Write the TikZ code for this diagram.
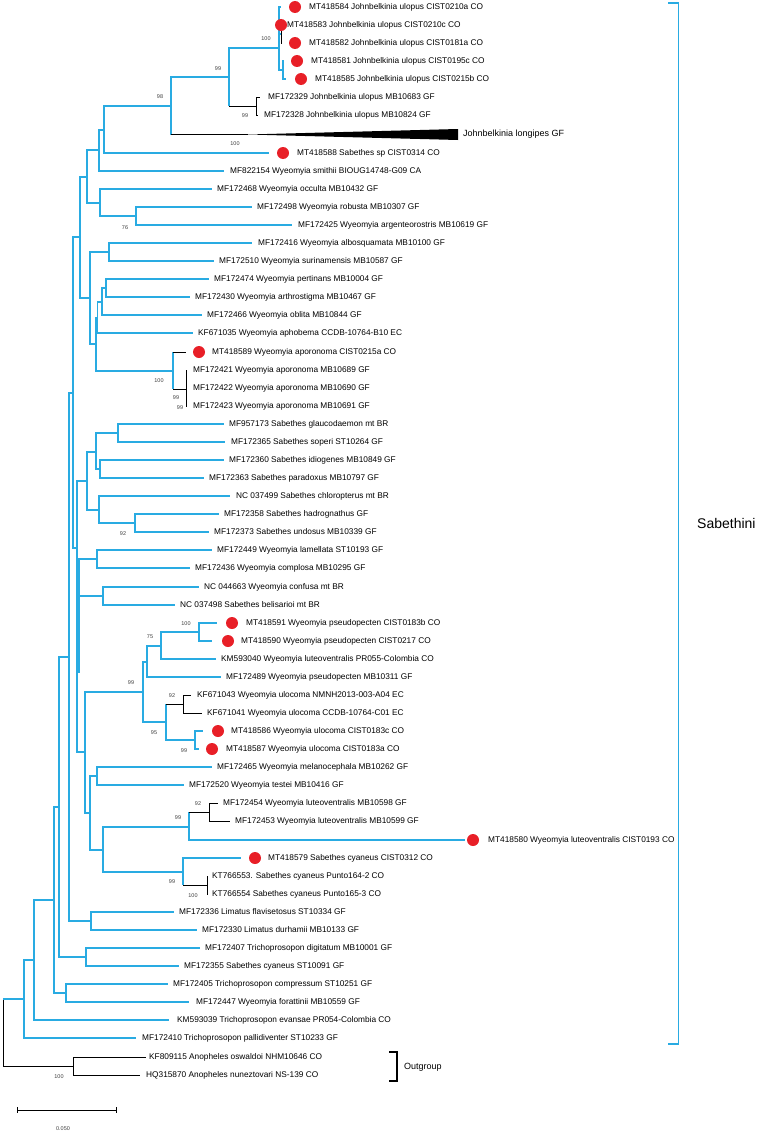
\documentclass[tikz,border=0pt]{standalone}
\usepackage{fontspec}
\setmainfont{Liberation Sans}
\definecolor{treeblue}{RGB}{41,171,226}
\definecolor{dotred}{RGB}{232,31,39}
\begin{document}
\begin{tikzpicture}[x=1pt,y=-1pt,
        blu/.style={treeblue, line width=1.8pt},
        blk/.style={black, line width=0.8pt},
        lab/.style={anchor=west, inner sep=0pt, font=\fontsize{8.3}{10}\selectfont},
        dot/.style={circle, fill=dotred, inner sep=0pt, minimum size=12pt},
        bs/.style={inner sep=0pt, text=black!75, font=\fontsize{5.5}{6}\selectfont}]
        \useasboundingbox (0,0) rectangle (756,1132);
        \coordinate (nJu) at (279,48);
        \coordinate (nJub) at (281,34);
        \coordinate (nJs) at (283,70);
        \coordinate (n99a) at (229,77);
        \coordinate (nJg) at (256,106);
        \coordinate (n98) at (171,106);
        \coordinate (nLong) at (248,134.5);
        \coordinate (nLongA) at (458,129);
        \coordinate (nLongB) at (458,140);
        \coordinate (nA) at (104,130);
        \coordinate (nB) at (99,150);
        \coordinate (nC) at (87,177);
        \coordinate (nD) at (100,203);
        \coordinate (n76) at (136,216);
        \coordinate (nE) at (80,237);
        \coordinate (nF) at (109,252);
        \coordinate (nG) at (90,298);
        \coordinate (nH) at (106,288);
        \coordinate (nI) at (102,302);
        \coordinate (nJ) at (97.5,318);
        \coordinate (nK) at (96,344);
        \coordinate (n100ap) at (173,371);
        \coordinate (n99ap) at (186,389);
        \coordinate (nL) at (73,393);
        \coordinate (nM) at (77,548);
        \coordinate (nS) at (87,481);
        \coordinate (nS1) at (96,452);
        \coordinate (nS2) at (99,510);
        \coordinate (nGla) at (118,433);
        \coordinate (nIdi) at (100,469);
        \coordinate (n92s) at (135,523);
        \coordinate (nLam) at (97,559);
        \coordinate (nConf) at (103,596);
        \coordinate (nZa) at (78.5,560);
        \coordinate (nZb) at (78.5,673);
        \coordinate (nP) at (85,752);
        \coordinate (n99p) at (143,692);
        \coordinate (nPs) at (147,662);
        \coordinate (n75) at (161,646);
        \coordinate (n100p) at (199,632);
        \coordinate (n95) at (166,722);
        \coordinate (n92u) at (183,704);
        \coordinate (n99u) at (195,740);
        \coordinate (nQ) at (90,813);
        \coordinate (nMel) at (97,776);
        \coordinate (nR) at (103,850);
        \coordinate (n99lu) at (189,827);
        \coordinate (n92l) at (209,812);
        \coordinate (n99cy) at (183,872);
        \coordinate (n100cy) at (207,885);
        \coordinate (nN) at (69,657);
        \coordinate (nLim) at (91,921);
        \coordinate (nT) at (59,807);
        \coordinate (nTd) at (86,957);
        \coordinate (nU) at (54,900);
        \coordinate (nTc) at (66,993);
        \coordinate (nV) at (34,960);
        \coordinate (nW) at (24,999);
        \coordinate (nRoot) at (3,1033);
        \coordinate (nOut) at (73,1066);
        \coordinate (l1) at (281,7);
        \coordinate (l2) at (282,25);
        \coordinate (l3) at (282,43);
        \coordinate (l4) at (284,61);
        \coordinate (l5) at (286,79);
        \coordinate (l6) at (260,97);
        \coordinate (l7) at (258,115);
        \coordinate (l9) at (269,153);
        \coordinate (l10) at (224,171);
        \coordinate (l11) at (212,189);
        \coordinate (l12) at (252,207);
        \coordinate (l13) at (292,225);
        \coordinate (l14) at (252,243);
        \coordinate (l15) at (214,261);
        \coordinate (l16) at (209,279);
        \coordinate (l17) at (190,297);
        \coordinate (l18) at (202,315);
        \coordinate (l19) at (193,333);
        \coordinate (l20) at (186,352);
        \coordinate (l21) at (187,370);
        \coordinate (l22) at (187,388);
        \coordinate (l23) at (187,406);
        \coordinate (l24) at (224,424);
        \coordinate (l25) at (225,442);
        \coordinate (l26) at (224,460);
        \coordinate (l27) at (204,478);
        \coordinate (l28) at (230,496);
        \coordinate (l29) at (219,514);
        \coordinate (l30) at (209,532);
        \coordinate (l31) at (212,550);
        \coordinate (l32) at (190,568);
        \coordinate (l33) at (199,587);
        \coordinate (l34) at (175,605);
        \coordinate (l35) at (217,623);
        \coordinate (l36) at (212,641);
        \coordinate (l37) at (216,659);
        \coordinate (l38) at (221,677);
        \coordinate (l39) at (191,695);
        \coordinate (l40) at (202,713);
        \coordinate (l41) at (203,731);
        \coordinate (l42) at (199,749);
        \coordinate (l43) at (212,767);
        \coordinate (l44) at (184,785);
        \coordinate (l45) at (218,803);
        \coordinate (l46) at (230,821);
        \coordinate (l47) at (465,840);
        \coordinate (l48) at (241,858);
        \coordinate (l49) at (208,876);
        \coordinate (l50) at (208,894);
        \coordinate (l51) at (174,912);
        \coordinate (l52) at (197,930);
        \coordinate (l53) at (200,948);
        \coordinate (l54) at (179,966);
        \coordinate (l55) at (168,984);
        \coordinate (l56) at (189,1002);
        \coordinate (l57) at (169,1020);
        \coordinate (l58) at (136,1038);
        \coordinate (l59) at (146,1057);
        \coordinate (l60) at (140,1075);
        \draw[blu] (nJu) |- (l1);
        \draw[blu] (nJu) |- (nJub);
        \draw[blk] (nJub) |- (l2);
        \draw[blk] (nJub) |- (l3);
        \draw[blu] (nJu) |- (nJs);
        \draw[blu] (nJs) |- (l4);
        \draw[blu] (nJs) |- (l5);
        \draw[blu] (n99a) |- (nJu);
        \draw[blu] (n99a) -- (n99a |- nJg);
        \draw[blk] (n99a |- nJg) -- (nJg);
        \draw[blk] (nJg) |- (l6);
        \draw[blk] (nJg) |- (l7);
        \draw[blu] (n98) |- (n99a);
        \draw[blu] (n98) -- (n98 |- nLong);
        \draw[blk] (n98 |- nLong) -- (nLong);
        \fill (nLong) -- (nLongA) -- (nLongB) -- cycle;
        \draw[blu] (nA) |- (n98);
        \draw[blu] (nA) |- (l9);
        \draw[blu] (nB) |- (nA);
        \draw[blu] (nB) |- (l10);
        \draw[blu] (nC) |- (nB);
        \draw[blu] (nC) |- (nD);
        \draw[blu] (nD) |- (l11);
        \draw[blu] (nD) |- (n76);
        \draw[blu] (n76) |- (l12);
        \draw[blu] (n76) |- (l13);
        \draw[blu] (nE) |- (nC);
        \draw[blu] (nE) |- (nG);
        \draw[blu] (nG) |- (nF);
        \draw[blu] (nG) |- (nK);
        \draw[blu] (nF) |- (l14);
        \draw[blu] (nF) |- (l15);
        \draw[blu] (nK) |- (nJ);
        \draw[blu] (nK) |- (n100ap);
        \draw[blu] (nJ) |- (nI);
        \draw[blu] (nJ) |- (l19);
        \draw[blu] (nI) |- (nH);
        \draw[blu] (nI) |- (l18);
        \draw[blu] (nH) |- (l16);
        \draw[blu] (nH) |- (l17);
        \draw[blu] (n100ap) -- (n100ap |- l20);
        \draw[blk] (n100ap |- l20) -- (l20);
        \draw[blu] (n100ap) -- (n100ap |- n99ap);
        \draw[blk] (n100ap |- n99ap) -- (n99ap);
        \draw[blk] (n99ap) |- (l21);
        \draw[blk] (n99ap) |- (l22);
        \draw[blk] (n99ap) |- (l23);
        \draw[blu] (nL) |- (nE);
        \draw[blu] (nL) |- (nM);
        \draw[blu] (nM) |- (nS);
        \draw[blu] (nM) |- (nLam);
        \draw[blu] (nM) |- (nConf);
        \draw[blu] (nM) |- (nP);
        \draw[treeblue, line width=2.8pt] (nZa) -- (nZb);
        \draw[blu] (nS) |- (nS1);
        \draw[blu] (nS) |- (nS2);
        \draw[blu] (nS1) |- (nGla);
        \draw[blu] (nS1) |- (nIdi);
        \draw[blu] (nGla) |- (l24);
        \draw[blu] (nGla) |- (l25);
        \draw[blu] (nIdi) |- (l26);
        \draw[blu] (nIdi) |- (l27);
        \draw[blu] (nS2) |- (l28);
        \draw[blu] (nS2) |- (n92s);
        \draw[blu] (n92s) |- (l29);
        \draw[blu] (n92s) |- (l30);
        \draw[blu] (nLam) |- (l31);
        \draw[blu] (nLam) |- (l32);
        \draw[blu] (nConf) |- (l33);
        \draw[blu] (nConf) |- (l34);
        \draw[blu] (nP) |- (n99p);
        \draw[blu] (nP) |- (nQ);
        \draw[blu] (n99p) |- (nPs);
        \draw[blu] (n99p) |- (n95);
        \draw[blu] (nPs) |- (n75);
        \draw[blu] (nPs) |- (l38);
        \draw[blu] (n75) |- (n100p);
        \draw[blu] (n75) |- (l37);
        \draw[blu] (n100p) |- (l35);
        \draw[blu] (n100p) |- (l36);
        \draw[blu] (n95) -- (n95 |- n92u);
        \draw[blk] (n95 |- n92u) -- (n92u);
        \draw[blu] (n95) |- (n99u);
        \draw[blk] (n92u) |- (l39);
        \draw[blk] (n92u) |- (l40);
        \draw[blu] (n99u) |- (l41);
        \draw[blu] (n99u) |- (l42);
        \draw[blu] (nQ) |- (nMel);
        \draw[blu] (nQ) |- (nR);
        \draw[blu] (nMel) |- (l43);
        \draw[blu] (nMel) |- (l44);
        \draw[blu] (nR) |- (n99lu);
        \draw[blu] (nR) |- (n99cy);
        \draw[blu] (n99lu) -- (n99lu |- n92l);
        \draw[blk] (n99lu |- n92l) -- (n92l);
        \draw[blu] (n99lu) |- (l47);
        \draw[blk] (n92l) |- (l45);
        \draw[blk] (n92l) |- (l46);
        \draw[blu] (n99cy) |- (l48);
        \draw[blu] (n99cy) -- (n99cy |- n100cy);
        \draw[blk] (n99cy |- n100cy) -- (n100cy);
        \draw[blk] (n100cy) |- (l49);
        \draw[blk] (n100cy) |- (l50);
        \draw[blu] (nN) |- (nL);
        \draw[blu] (nN) |- (nLim);
        \draw[blu] (nLim) |- (l51);
        \draw[blu] (nLim) |- (l52);
        \draw[blu] (nT) |- (nN);
        \draw[blu] (nT) |- (nTd);
        \draw[blu] (nTd) |- (l53);
        \draw[blu] (nTd) |- (l54);
        \draw[blu] (nU) |- (nT);
        \draw[blu] (nU) |- (nTc);
        \draw[blu] (nTc) |- (l55);
        \draw[blu] (nTc) |- (l56);
        \draw[blu] (nV) |- (nU);
        \draw[blu] (nV) |- (l57);
        \draw[blu] (nW) |- (nV);
        \draw[blu] (nW) |- (l58);
        \draw[blk] (nRoot) -- (nRoot |- nW);
        \draw[blu] (nRoot |- nW) -- (nW);
        \draw[blk] (nRoot) |- (nOut);
        \draw[blk] (nOut) |- (l59);
        \draw[blk] (nOut) |- (l60);
        \node[dot] (d1) at (295,7) {};
        \node[dot] (d2) at (281,25) {};
        \node[dot] (d3) at (295,43) {};
        \node[dot] (d4) at (297,61) {};
        \node[dot] (d5) at (301,79) {};
        \node[dot] (d9) at (283,153) {};
        \node[dot] (d20) at (199,352) {};
        \node[dot] (d35) at (232,623) {};
        \node[dot] (d36) at (228,641) {};
        \node[dot] (d41) at (218,731) {};
        \node[dot] (d42) at (212,749) {};
        \node[dot] (d47) at (473,840) {};
        \node[dot] (d48) at (255,858) {};
        \node[lab] (t1) at (309,7) {MT418584 Johnbelkinia ulopus CIST0210a CO};
        \node[lab] (t2) at (287,25) {MT418583 Johnbelkinia ulopus CIST0210c CO};
        \node[lab] (t3) at (309,43) {MT418582 Johnbelkinia ulopus CIST0181a CO};
        \node[lab] (t4) at (311,61) {MT418581 Johnbelkinia ulopus CIST0195c CO};
        \node[lab] (t5) at (315,79) {MT418585 Johnbelkinia ulopus CIST0215b CO};
        \node[lab] (t6) at (268,97) {MF172329 Johnbelkinia ulopus MB10683 GF};
        \node[lab] (t7) at (264,115) {MF172328 Johnbelkinia ulopus MB10824 GF};
        \node[lab, font=\fontsize{9}{11}\selectfont] (t8) at (463,134) {Johnbelkinia longipes GF};
        \node[lab] (t9) at (297,153) {MT418588 Sabethes sp CIST0314 CO};
        \node[lab] (t10) at (230,171) {MF822154 Wyeomyia smithii BIOUG14748-G09 CA};
        \node[lab] (t11) at (217,189) {MF172468 Wyeomyia occulta MB10432 GF};
        \node[lab] (t12) at (257,207) {MF172498 Wyeomyia robusta MB10307 GF};
        \node[lab] (t13) at (298,225) {MF172425 Wyeomyia argenteorostris MB10619 GF};
        \node[lab] (t14) at (258,243) {MF172416 Wyeomyia albosquamata MB10100 GF};
        \node[lab] (t15) at (219,261) {MF172510 Wyeomyia surinamensis MB10587 GF};
        \node[lab] (t16) at (214,279) {MF172474 Wyeomyia pertinans MB10004 GF};
        \node[lab] (t17) at (195,297) {MF172430 Wyeomyia arthrostigma MB10467 GF};
        \node[lab] (t18) at (207,315) {MF172466 Wyeomyia oblita MB10844 GF};
        \node[lab] (t19) at (198,333) {KF671035 Wyeomyia aphobema CCDB-10764-B10 EC};
        \node[lab] (t20) at (212,352) {MT418589 Wyeomyia aporonoma CIST0215a CO};
        \node[lab] (t21) at (193,370) {MF172421 Wyeomyia aporonoma MB10689 GF};
        \node[lab] (t22) at (193,388) {MF172422 Wyeomyia aporonoma MB10690 GF};
        \node[lab] (t23) at (193,406) {MF172423 Wyeomyia aporonoma MB10691 GF};
        \node[lab] (t24) at (229,424) {MF957173 Sabethes glaucodaemon mt BR};
        \node[lab] (t25) at (231,442) {MF172365 Sabethes soperi ST10264 GF};
        \node[lab] (t26) at (229,460) {MF172360 Sabethes idiogenes MB10849 GF};
        \node[lab] (t27) at (209,478) {MF172363 Sabethes paradoxus MB10797 GF};
        \node[lab] (t28) at (236,496) {NC 037499 Sabethes chloropterus mt BR};
        \node[lab] (t29) at (224,514) {MF172358 Sabethes hadrognathus GF};
        \node[lab] (t30) at (214,532) {MF172373 Sabethes undosus MB10339 GF};
        \node[lab] (t31) at (217,550) {MF172449 Wyeomyia lamellata ST10193 GF};
        \node[lab] (t32) at (195,568) {MF172436 Wyeomyia complosa MB10295 GF};
        \node[lab] (t33) at (204,587) {NC 044663 Wyeomyia confusa mt BR};
        \node[lab] (t34) at (180,605) {NC 037498 Sabethes belisarioi mt BR};
        \node[lab] (t35) at (246,623) {MT418591 Wyeomyia pseudopecten CIST0183b CO};
        \node[lab] (t36) at (241,641) {MT418590 Wyeomyia pseudopecten CIST0217 CO};
        \node[lab] (t37) at (221,659) {KM593040 Wyeomyia luteoventralis PR055-Colombia CO};
        \node[lab] (t38) at (226,677) {MF172489 Wyeomyia pseudopecten MB10311 GF};
        \node[lab] (t39) at (197,695) {KF671043 Wyeomyia ulocoma NMNH2013-003-A04 EC};
        \node[lab] (t40) at (207,713) {KF671041 Wyeomyia ulocoma CCDB-10764-C01 EC};
        \node[lab] (t41) at (231,731) {MT418586 Wyeomyia ulocoma CIST0183c CO};
        \node[lab] (t42) at (226,749) {MT418587 Wyeomyia ulocoma CIST0183a CO};
        \node[lab] (t43) at (217,767) {MF172465 Wyeomyia melanocephala MB10262 GF};
        \node[lab] (t44) at (189,785) {MF172520 Wyeomyia testei MB10416 GF};
        \node[lab] (t45) at (223,803) {MF172454 Wyeomyia luteoventralis MB10598 GF};
        \node[lab] (t46) at (235,821) {MF172453 Wyeomyia luteoventralis MB10599 GF};
        \node[lab] (t47) at (488,840) {MT418580 Wyeomyia luteoventralis CIST0193 CO};
        \node[lab] (t48) at (268,858) {MT418579 Sabethes cyaneus CIST0312 CO};
        \node[lab] (t49) at (212,876) {KT766553. Sabethes cyaneus Punto164-2 CO};
        \node[lab] (t50) at (212,894) {KT766554 Sabethes cyaneus Punto165-3 CO};
        \node[lab] (t51) at (179,912) {MF172336 Limatus flavisetosus ST10334 GF};
        \node[lab] (t52) at (202,930) {MF172330 Limatus durhamii MB10133 GF};
        \node[lab] (t53) at (205,948) {MF172407 Trichoprosopon digitatum MB10001 GF};
        \node[lab] (t54) at (184,966) {MF172355 Sabethes cyaneus ST10091 GF};
        \node[lab] (t55) at (173,984) {MF172405 Trichoprosopon compressum ST10251 GF};
        \node[lab] (t56) at (196,1002) {MF172447 Wyeomyia forattinii MB10559 GF};
        \node[lab] (t57) at (177,1020) {KM593039 Trichoprosopon evansae PR054-Colombia CO};
        \node[lab] (t58) at (142,1038) {MF172410 Trichoprosopon pallidiventer ST10233 GF};
        \node[lab] (t59) at (149,1057) {KF809115 Anopheles oswaldoi NHM10646 CO};
        \node[lab] (t60) at (146,1075) {HQ315870 Anopheles nuneztovari NS-139 CO};
        \node[bs] (b1) at (266,39) {100};
        \node[bs] (b2) at (218,69) {99};
        \node[bs] (b3) at (160,97) {98};
        \node[bs] (b4) at (245,116) {99};
        \node[bs] (b5) at (235,144) {100};
        \node[bs] (b6) at (125,228) {76};
        \node[bs] (b7) at (159,381) {100};
        \node[bs] (b8) at (176,398) {99};
        \node[bs] (b9) at (180,408) {99};
        \node[bs] (b10) at (123,534) {92};
        \node[bs] (b11) at (186,624) {100};
        \node[bs] (b12) at (150,637) {75};
        \node[bs] (b13) at (131,683) {99};
        \node[bs] (b14) at (172,696) {92};
        \node[bs] (b15) at (154,733) {95};
        \node[bs] (b16) at (184,751) {99};
        \node[bs] (b17) at (198,804) {92};
        \node[bs] (b18) at (178,818) {99};
        \node[bs] (b19) at (172,882) {99};
        \node[bs] (b20) at (193,896) {100};
        \node[bs] (b21) at (59,1077) {100};
        \coordinate (sabTop) at (668,3);
        \coordinate (sabBot) at (668,1044);
        \draw[blu] (sabTop) -- ++(10.5,0) |- (sabBot);
        \node[lab, font=\fontsize{14}{16}\selectfont] (sab) at (697,523) {Sabethini};
        \coordinate (outTop) at (389,1052);
        \coordinate (outBot) at (389,1081);
        \draw[blk, line width=1.2pt] (outTop) -- ++(8,0) |- (outBot);
        \node[lab, font=\fontsize{9}{11}\selectfont] (out) at (404,1067) {Outgroup};
        \coordinate (sb1) at (17,1110);
        \coordinate (sb2) at (116,1110);
        \draw[blk] (sb1) -- (sb2);
        \draw[blk] (sb1) ++(0,-3) -- ++(0,6);
        \draw[blk] (sb2) ++(0,-3) -- ++(0,6);
        \node[bs] (sbl) at (63,1129) {0.050};
\end{tikzpicture}
\end{document}
